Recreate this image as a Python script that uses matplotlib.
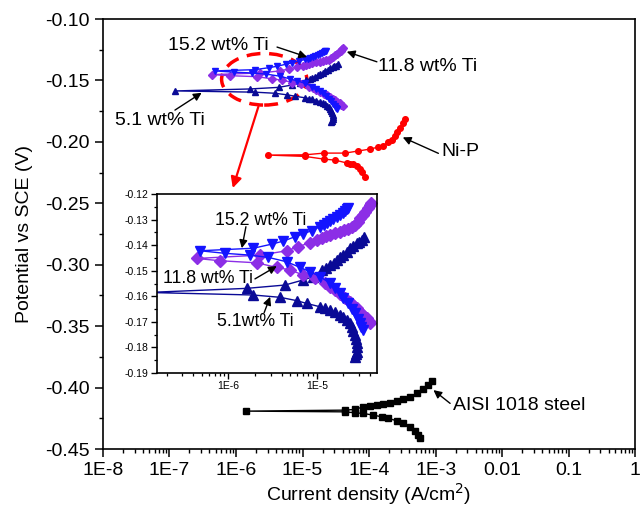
import matplotlib
matplotlib.use("Agg")
import matplotlib.pyplot as plt
import numpy as np
from matplotlib.patches import Ellipse
from matplotlib.ticker import LogLocator, MultipleLocator, FuncFormatter, NullFormatter

plt.rcParams['font.family'] = ['Liberation Sans', 'DejaVu Sans']

# polarization curves, scan order: cathodic end -> Ecorr -> anodic end
ti51_i = [2.71e-5, 2.8e-5, 2.83e-5, 2.85e-5, 2.83e-5, 2.78e-5, 2.71e-5, 2.6e-5, 2.49e-5, 2.35e-5,
          2.18e-5, 2.0e-5, 1.83e-5, 1.6e-5, 1.41e-5, 1.25e-5, 1.09e-5, 7.69e-6, 5.93e-6, 3.85e-6,
          1.92e-6, 1.23e-7, 1.61e-6, 4.37e-6, 7.06e-6, 9.17e-6, 1.14e-5, 1.28e-5, 1.41e-5, 1.55e-5,
          1.68e-5, 1.84e-5, 2.0e-5, 2.2e-5, 2.38e-5, 2.6e-5, 2.83e-5, 3.0e-5, 3.22e-5, 3.4e-5]
ti51_E = [-0.1836, -0.1826, -0.1817, -0.1800, -0.1784, -0.1768, -0.1751, -0.1735, -0.1719, -0.1705,
          -0.1693, -0.1682, -0.1673, -0.1663, -0.1654, -0.1647, -0.1641, -0.1628, -0.1617, -0.1604,
          -0.1595, -0.1585, -0.1569, -0.1556, -0.1536, -0.1523, -0.1497, -0.1488, -0.1478, -0.1468,
          -0.1458, -0.1448, -0.1439, -0.1425, -0.1412, -0.1402, -0.1393, -0.1386, -0.1380, -0.1369]

ti152_i = [3.31e-5, 3.2e-5, 3.08e-5, 2.9e-5, 2.71e-5, 2.5e-5, 2.28e-5, 2.0e-5, 1.83e-5, 1.6e-5,
           1.41e-5, 1.09e-5, 8.4e-6, 6.47e-6, 4.57e-6, 2.84e-6, 1.76e-6, 9.2e-7, 4.78e-7, 1.92e-6,
           3.10e-6, 4.19e-6, 5.68e-6, 7.06e-6, 8.77e-6, 1.09e-5, 1.2e-5, 1.30e-5, 1.42e-5, 1.54e-5,
           1.68e-5, 1.83e-5, 1.96e-5, 2.09e-5, 2.2e-5, 2.28e-5]
ti152_E = [-0.1732, -0.1720, -0.1706, -0.1688, -0.1667, -0.1648, -0.1628, -0.1605, -0.1588, -0.1568,
           -0.1549, -0.1523, -0.1504, -0.1487, -0.1465, -0.1448, -0.1439, -0.1432, -0.1422, -0.1412,
           -0.1396, -0.1384, -0.1367, -0.1356, -0.1343, -0.1328, -0.1322, -0.1315, -0.1307, -0.1299,
           -0.1290, -0.1282, -0.1274, -0.1266, -0.1260, -0.1256]

ti118_i = [4.01e-5, 3.85e-5, 3.67e-5, 3.35e-5, 3.08e-5, 2.85e-5, 2.60e-5, 2.35e-5, 2.09e-5, 1.83e-5,
           1.61e-5, 1.42e-5, 1.24e-5, 9.55e-6, 7.06e-6, 4.99e-6, 3.52e-6, 2.09e-6, 8.05e-7, 4.39e-7,
           2.29e-6, 4.57e-6, 6.2e-6, 8.4e-6, 1.0e-5, 1.14e-5, 1.27e-5, 1.41e-5, 1.6e-5, 1.83e-5,
           2.05e-5, 2.28e-5, 2.5e-5, 2.71e-5, 2.9e-5, 3.08e-5, 3.3e-5, 3.52e-5, 3.75e-5, 3.95e-5, 4.08e-5]
ti118_E = [-0.1706, -0.1696, -0.1686, -0.1673, -0.1660, -0.1647, -0.1634, -0.1621, -0.1608, -0.1591,
           -0.1575, -0.1562, -0.1549, -0.1530, -0.1517, -0.1497, -0.1487, -0.1469, -0.1461, -0.1452,
           -0.1439, -0.1422, -0.1406, -0.1390, -0.1381, -0.1373, -0.1366, -0.1360, -0.1353, -0.1347,
           -0.1342, -0.1337, -0.1330, -0.1321, -0.1308, -0.1295, -0.1282, -0.1269, -0.1256, -0.1243, -0.1234]

nip_i = [8.7e-5, 7.85e-5, 7.32e-5, 6.6e-5, 5.74e-5, 5.18e-5, 4.67e-5, 3.08e-5, 2.10e-5, 1.09e-5,
         3.03e-6, 1.09e-5, 2.10e-5, 4.35e-5, 6.84e-5, 1.04e-4, 1.37e-4, 1.63e-4, 1.93e-4, 2.22e-4,
         2.46e-4, 2.64e-4, 2.92e-4, 3.24e-4, 3.48e-4]
nip_E = [-0.2286, -0.2245, -0.2221, -0.2197, -0.2180, -0.2176, -0.2172, -0.2148, -0.2140, -0.2118,
         -0.2107, -0.2105, -0.2091, -0.2091, -0.2074, -0.2058, -0.2042, -0.2034, -0.2001, -0.1985,
         -0.1952, -0.1920, -0.1887, -0.1847, -0.1814]

steel_i = [5.85e-4, 5.52e-4, 4.92e-4, 4.14e-4, 3.28e-4, 2.61e-4, 1.95e-4, 1.55e-4, 1.16e-4, 8.2e-5,
           6.15e-5, 4.35e-5, 1.41e-6, 4.35e-5, 6.15e-5, 8.2e-5, 1.03e-4, 1.31e-4, 1.64e-4, 2.07e-4,
           2.61e-4, 3.28e-4, 4.14e-4, 5.21e-4, 6.56e-4, 7.8e-4, 8.77e-4]
steel_E = [-0.4413, -0.4386, -0.4351, -0.4319, -0.4291, -0.4270, -0.4250, -0.4237, -0.4224, -0.4210,
           -0.4205, -0.4197, -0.4191, -0.4183, -0.4177, -0.4156, -0.4150, -0.4142, -0.4134, -0.4123,
           -0.4107, -0.4093, -0.4075, -0.4047, -0.4015, -0.3979, -0.3944]

c51 = '#0a0a96'
c152 = '#1414ff'
c118 = '#8c2ee6'


def dec_label(v, pos):
    labels = {1e-8: '1E-8', 1e-7: '1E-7', 1e-6: '1E-6', 1e-5: '1E-5', 1e-4: '1E-4',
              1e-3: '1E-3', 1e-2: '0.01', 1e-1: '0.1', 1.0: '1'}
    for k, s in labels.items():
        if abs(np.log10(v) - np.log10(k)) < 1e-6:
            return s
    return ''


def arrow(ax, head, tail, color='black', lw=1.0):
    ax.annotate('', xy=head, xytext=tail,
                arrowprops=dict(arrowstyle='-|>', color=color, lw=lw,
                                mutation_scale=12, shrinkA=0, shrinkB=0))


def draw_curves(ax, ms):
    ax.plot(steel_i, steel_E, '-s', color='black', lw=1, ms=ms * 0.85)
    ax.plot(nip_i, nip_E, '-o', color='red', lw=1, ms=ms * 0.9)
    ax.plot(ti51_i, ti51_E, '-^', color=c51, lw=1, ms=ms)
    ax.plot(ti118_i, ti118_E, '-D', color=c118, lw=1, ms=ms * 0.85)
    ax.plot(ti152_i, ti152_E, '-v', color=c152, lw=1, ms=ms)


fig = plt.figure(figsize=(6.43, 5.15), dpi=100)
ax = fig.add_axes([0.160, 0.128, 0.828, 0.835])
draw_curves(ax, 4.5)
ax.set_xscale('log')
ax.set_xlim(1e-8, 1)
ax.set_ylim(-0.45, -0.10)
ax.xaxis.set_major_locator(LogLocator(base=10, numticks=12))
ax.xaxis.set_minor_locator(LogLocator(base=10, subs=np.arange(2, 10), numticks=12))
ax.xaxis.set_major_formatter(FuncFormatter(dec_label))
ax.xaxis.set_minor_formatter(NullFormatter())
ax.yaxis.set_major_locator(MultipleLocator(0.05))
ax.yaxis.set_minor_locator(MultipleLocator(0.025))
ax.yaxis.set_major_formatter(FuncFormatter(lambda v, p: '%.2f' % v))
ax.tick_params(which='both', direction='out', top=False, right=False, labelsize=14)
ax.tick_params(which='major', length=6, width=1.1)
ax.tick_params(which='minor', length=3, width=1.0)
for s in ax.spines.values():
    s.set_linewidth(1.2)
ax.set_xlabel('Current density (A/cm$^2$)', fontsize=14, labelpad=1)
ax.set_ylabel('Potential vs SCE (V)', fontsize=14, labelpad=9)

# labels in the main plot
fs = 14
ax.text(9.5e-8, -0.1212, '15.2 wt% Ti', fontsize=fs, ha='left', va='center')
arrow(ax, (1.17e-5, -0.1309), (4.14e-6, -0.1228))
ax.text(1.36e-4, -0.1388, '11.8 wt% Ti', fontsize=fs, ha='left', va='center')
arrow(ax, (4.62e-5, -0.1266), (1.31e-4, -0.1348))
ax.text(1.51e-8, -0.1822, '5.1 wt% Ti', fontsize=fs, ha='left', va='center')
arrow(ax, (3.05e-7, -0.1600), (1.21e-7, -0.1741))
ax.text(1.24e-3, -0.2080, 'Ni-P', fontsize=fs, ha='left', va='center')
arrow(ax, (3.21e-4, -0.1963), (1.10e-3, -0.2093))
ax.text(1.83e-3, -0.4142, 'AISI 1018 steel', fontsize=fs, ha='left', va='center')
arrow(ax, (9.27e-4, -0.4020), (1.65e-3, -0.4128))

# dashed ellipse and pointer to the inset
ax.add_patch(Ellipse((0.303, 0.860), 0.160, 0.120, transform=ax.transAxes,
                     fill=False, edgecolor='red', lw=2.5, ls=(0, (4, 2.5))))
ax.annotate('', xy=(0.244, 0.607), xytext=(0.292, 0.796), xycoords='axes fraction',
            arrowprops=dict(arrowstyle='-|>', color='red', lw=1.6, mutation_scale=16,
                            shrinkA=0, shrinkB=0))

# inset
ins = fig.add_axes([0.2442, 0.2757, 0.3421, 0.3476])
draw_curves(ins, 7)
ins.set_xscale('log')
ins.set_xlim(1.56e-7, 4.8e-5)
ins.set_ylim(-0.19, -0.12)
ins.xaxis.set_major_locator(LogLocator(base=10, numticks=12))
ins.xaxis.set_minor_locator(LogLocator(base=10, subs=np.arange(2, 10), numticks=12))
ins.xaxis.set_major_formatter(FuncFormatter(dec_label))
ins.xaxis.set_minor_formatter(NullFormatter())
ins.yaxis.set_major_locator(MultipleLocator(0.01))
ins.yaxis.set_minor_locator(MultipleLocator(0.005))
ins.yaxis.set_major_formatter(FuncFormatter(lambda v, p: '%.2f' % v))
ins.tick_params(which='both', direction='out', top=False, right=False, labelsize=7.5, pad=2)
ins.tick_params(which='major', length=4, width=1.0)
ins.tick_params(which='minor', length=2.5, width=0.9)
for s in ins.spines.values():
    s.set_linewidth(1.2)

fsi = 12.8
ins.text(7.08e-7, -0.1302, '15.2 wt% Ti', fontsize=fsi, ha='left', va='center')
arrow(ins, (1.42e-6, -0.1412), (1.58e-6, -0.1328))
ins.text(1.84e-7, -0.1530, '11.8 wt% Ti', fontsize=fsi, ha='left', va='center')
arrow(ins, (3.53e-6, -0.1482), (2.0e-6, -0.1532))
ins.text(7.4e-7, -0.1699, '5.1wt% Ti', fontsize=fsi, ha='left', va='center')
arrow(ins, (2.97e-6, -0.1602), (2.54e-6, -0.1664))

fig.savefig('out.png', dpi=100)
